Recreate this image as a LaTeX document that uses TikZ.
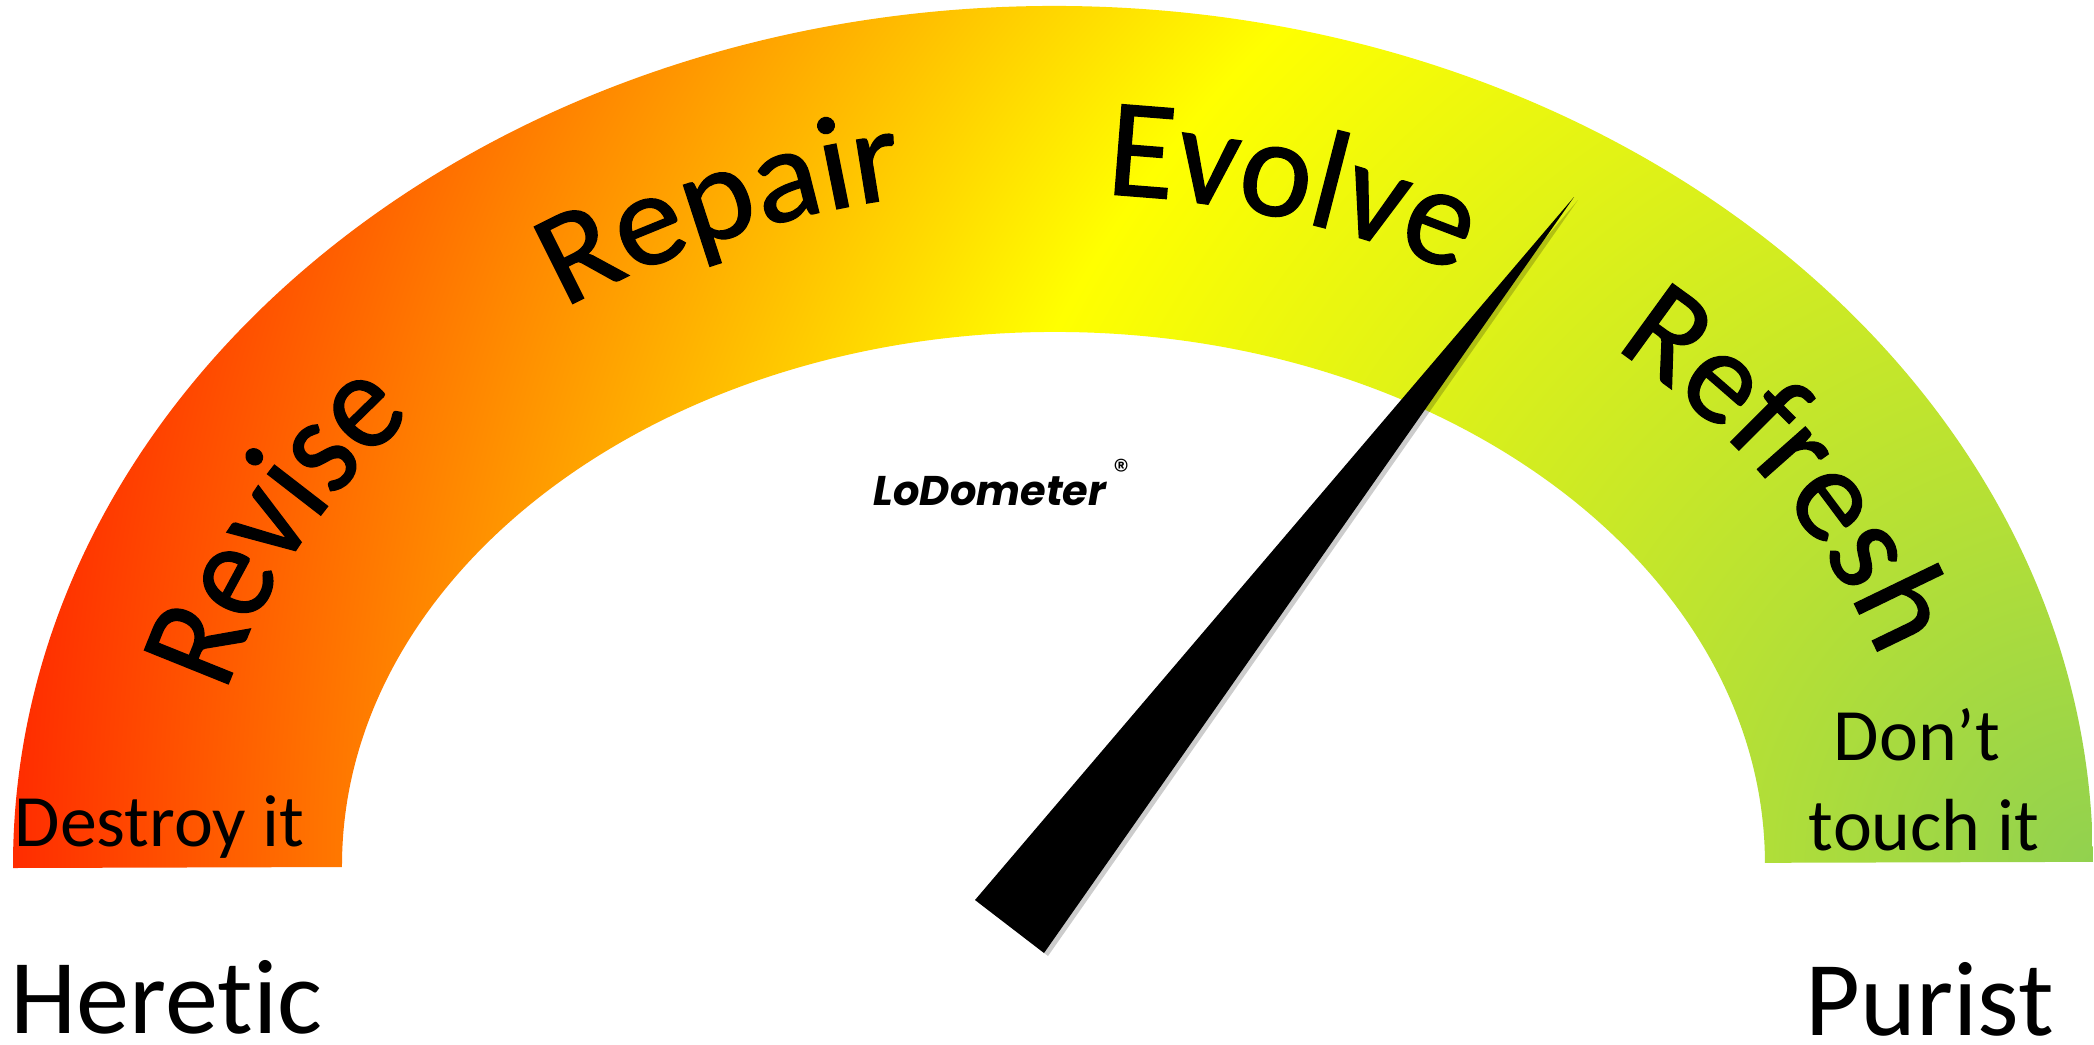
\documentclass[tikz,border=0pt]{standalone}
\usepackage{fontspec}
\setmainfont{Carlito}[Ligatures=NoCommon]
\newfontfamily\logofont{Poppins}
\newfontfamily\wordfont{Carlito}[Ligatures=NoCommon, FakeBold=1]
\usetikzlibrary{decorations.text}

\pgfdeclareradialshading{gaugefade}{\pgfpoint{0bp}{0bp}}{rgb(0bp)=(0.57,0.82,0.31); rgb(331bp)=(1,1,0); rgb(409bp)=(1,0.75,0); rgb(644bp)=(1,0,0)}

\tikzset{
    sidelabel/.style={font=\fontsize{30.2}{30.2}\selectfont, inner sep=0pt},
    endlabel/.style={font=\fontsize{21}{25.6}\selectfont, inner sep=0pt},
    wordart/.style n args={3}{decorate, decoration={text along path, text align=center, text={|\wordfont\addfontfeature{FakeStretch=#2}\fontsize{#1}{#1}\selectfont|#3}}}
}

\begin{document}
\begin{tikzpicture}[x=0.01cm, y=0.01cm]
    \useasboundingbox (0,0) rectangle (2094,1044);
    \fill[white] (0,0) rectangle (2094,1044);

    % Gauge band
    \begin{scope}[rotate around={0.17:(13,176)}]
        \clip (13,176) arc[start angle=180, end angle=0, x radius=1040, y radius=859]
            -- (1765,176) arc[start angle=0, end angle=180, x radius=711.5, y radius=533] -- cycle;
        \node[inner sep=0pt] (fade) at (2094,174) {\pgfuseshading{gaugefade}};
    \end{scope}

    % Curved words
    \path[wordart={40}{0.92}{Revise}] ([shift={(170:855 and 681)}]1052,176) arc[start angle=170, end angle=134, x radius=855, y radius=681];
    \path[wordart={38}{1.03}{Repair}] ([shift={(130:855 and 681)}]1052,176) arc[start angle=130, end angle=95, x radius=855, y radius=681];
    \path[wordart={40}{0.975}{Evolve}] ([shift={(92:860 and 675)}]1052,176) arc[start angle=92, end angle=56, x radius=860, y radius=675];
    \path[wordart={38}{1}{Refresh}] ([shift={(54:870 and 681)}]1052,176) arc[start angle=54, end angle=13, x radius=870, y radius=681];

    % Needle
    \fill[black, opacity=0.2] (979,141) -- (1578,844) -- (1048,88) -- cycle;
    \fill[black] (975,144) -- (1574,847) -- (1044,91) -- cycle;

    % Logo
    \node[anchor=base west, inner sep=0pt, font=\logofont\bfseries\itshape\fontsize{11.8}{11.8}\selectfont] (logo) at (873,539)
        {LoDometer\,\raisebox{1ex}{\fontsize{9}{9}\selectfont\mdseries\upshape ®}};

    % Labels
    \node[endlabel, anchor=base west] (destroy) at (14,198) {Destroy it};
    \node[endlabel, anchor=base, align=center] (dont) at (1917,284) {Don’t};
    \node[endlabel, anchor=base, align=center] (touch) at (1924,194) {touch it};
    \node[sidelabel, anchor=base west] (heretic) at (10,11) {Heretic};
    \node[sidelabel, anchor=base west] (purist) at (1805,9) {Purist};
\end{tikzpicture}
\end{document}
